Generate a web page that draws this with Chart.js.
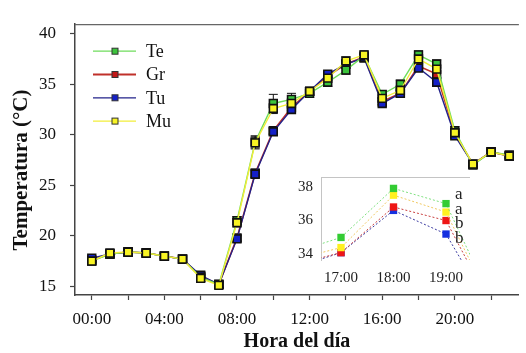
<!DOCTYPE html>
<html>
<head>
<meta charset="utf-8">
<script src="https://cdn.jsdelivr.net/npm/chart.js@4/dist/chart.umd.min.js"></script>
<style>
body { margin: 0; background: #fff; }
#wrap { position: relative; width: 526px; height: 353px; }
#main { position: absolute; left: 0; top: 0; }
#inset { position: absolute; left: 280px; top: 160px; }
</style>
</head>
<body>
<div id="wrap">
<canvas id="main" width="526" height="353"></canvas>
<canvas id="inset" width="220" height="130"></canvas>
</div>
<script>
// Horas (0..23) y temperaturas medias por tratamiento
const hours = [0,1,2,3,4,5,6,7,8,9,10,11,12,13,14,15,16,17,18,19,20,21,22,23];
const te = [17.5,18.2,18.4,18.3,18.0,17.7,15.9,15.2,21.5,29.3,33.1,33.5,34.1,35.2,36.4,37.8,34.0,35.0,37.9,37.0,30.4,27.0,28.3,28.0];
const gr = [17.6,18.2,18.4,18.3,18.0,17.7,16.0,15.2,19.8,26.2,30.4,32.7,34.3,35.8,37.0,37.7,33.3,34.1,36.8,36.0,30.1,27.1,28.3,27.9];
const tu = [17.8,18.2,18.4,18.3,18.0,17.7,16.1,15.2,19.7,26.1,30.3,32.5,34.3,36.0,37.0,37.6,33.1,34.1,36.6,35.2,29.9,27.1,28.3,27.9];
const mu = [17.5,18.3,18.4,18.3,18.0,17.7,15.8,15.1,21.3,29.2,32.6,33.1,34.3,35.6,37.3,37.9,33.6,34.4,37.5,36.5,30.2,27.1,28.3,27.9];

// errores (aprox.)
const teErr = [0.2,0.2,0.2,0.2,0.2,0.2,0.3,0.3,0.4,0.6,0.9,0.6,0.4,0.4,0.4,0.3,0.3,0.4,0.4,0.4,0.4,0.2,0.2,0.2];
const grErr = [0.2,0.2,0.2,0.2,0.2,0.2,0.3,0.3,0.3,0.4,0.3,0.3,0.3,0.3,0.3,0.3,0.3,0.3,0.3,0.3,0.3,0.2,0.2,0.2];
const tuErr = [0.2,0.2,0.2,0.2,0.2,0.2,0.3,0.3,0.3,0.4,0.3,0.3,0.3,0.3,0.3,0.3,0.3,0.3,0.3,0.4,0.3,0.2,0.2,0.2];
const muErr = [0.3,0.2,0.2,0.2,0.2,0.2,0.3,0.3,0.4,0.6,0.5,0.5,0.4,0.4,0.4,0.4,0.3,0.4,0.4,0.4,0.4,0.2,0.2,0.2];

const seriesNames = ['Te','Gr','Tu','Mu'];
const xTicks = [0,2,4,6,8,10,12,14,16,18,20,22];
const xTickLabels = ['00:00','','04:00','','08:00','','12:00','','16:00','','20:00',''];
const yTicks = [15,20,25,30,35,40];

const insetXTicks = [17,18,19];
const insetXLabels = ['17:00','18:00','19:00'];
const insetYTicks = [34,36,38];
const sigLetters = ['a','a','b','b'];

const serif = "'Liberation Serif', 'Times New Roman', serif";
const lineColors = ['#6fdc5c','#c0302a','#22228a','#f2ee3a'];
const markColors = ['#3cc43c','#c21818','#1420c8','#f8f424'];
const insetLine = ['#7ee07e','#c84040','#3a3aa0','#f0c860'];
const insetMark = ['#33cc33','#ee1616','#1530e0','#fff020'];
const allVals = [te, gr, tu, mu];
const allErr = [teErr, grErr, tuErr, muErr];

function pts(vals) {
    return hours.map((h, i) => ({ x: h, y: vals[i] }));
}

// barras de error + marco superior + leyenda + títulos
const mainExtras = {
    id: 'mainExtras',
    beforeDatasetsDraw(chart) {
        const ctx = chart.ctx;
        const xs = chart.scales.x, ys = chart.scales.y;
        ctx.save();
        ctx.strokeStyle = '#111';
        ctx.lineWidth = 1;
        allVals.forEach((vals, s) => {
            vals.forEach((v, i) => {
                const e = allErr[s][i];
                const x = xs.getPixelForValue(hours[i]);
                const y1 = ys.getPixelForValue(v + e);
                const y2 = ys.getPixelForValue(v - e);
                ctx.beginPath();
                ctx.moveTo(x, y1); ctx.lineTo(x, y2);
                ctx.moveTo(x - 4.5, y1); ctx.lineTo(x + 4.5, y1);
                ctx.moveTo(x - 4.5, y2); ctx.lineTo(x + 4.5, y2);
                ctx.stroke();
            });
        });
        ctx.restore();
    },
    afterDraw(chart) {
        const ctx = chart.ctx;
        const a = chart.chartArea;
        ctx.save();
        ctx.strokeStyle = '#666';
        ctx.lineWidth = 1.2;
        ctx.beginPath();
        ctx.moveTo(a.left, a.top + 0.5);
        ctx.lineTo(a.right, a.top + 0.5);
        ctx.stroke();

        // leyenda
        ctx.font = '18px ' + serif;
        ctx.textBaseline = 'middle';
        seriesNames.forEach((name, i) => {
            const y = a.top + 27 + i * 23.3;
            ctx.strokeStyle = lineColors[i];
            ctx.lineWidth = i === 1 ? 2 : 1.3;
            ctx.beginPath();
            ctx.moveTo(a.left + 18, y); ctx.lineTo(a.left + 61, y);
            ctx.stroke();
            ctx.fillStyle = markColors[i];
            ctx.strokeStyle = '#333';
            ctx.lineWidth = 1;
            ctx.fillRect(a.left + 37, y - 3, 6, 6);
            ctx.strokeRect(a.left + 37, y - 3, 6, 6);
            ctx.fillStyle = '#111';
            ctx.fillText(name, a.left + 71, y + 1);
        });

        // títulos de ejes
        ctx.textAlign = 'center';
        ctx.font = 'bold 20px ' + serif;
        ctx.fillText('Hora del día', (a.left + a.right) / 2, 342);
        ctx.font = 'bold 21px ' + serif;
        ctx.translate(22, 170);
        ctx.rotate(-Math.PI / 2);
        ctx.fillText('Temperatura (°C)', 0, 0);
        ctx.restore();
    }
};

new Chart(document.getElementById('main'), {
    type: 'line',
    data: {
        datasets: seriesNames.map((name, i) => ({
            label: name,
            data: pts(allVals[i]),
            borderColor: lineColors[i],
            borderWidth: i === 1 ? 1.6 : 1.4,
            pointStyle: 'rect',
            pointRadius: 5.5,
            pointBackgroundColor: markColors[i],
            pointBorderColor: '#111',
            pointBorderWidth: 1.6,
            order: [1, 3, 2, 0][i],
            tension: 0
        }))
    },
    options: {
        responsive: false,
        devicePixelRatio: 1,
        animation: false,
        layout: { padding: { top: 11, left: 0, right: 1, bottom: 0 } },
        plugins: { legend: { display: false }, tooltip: { enabled: false } },
        scales: {
            x: {
                type: 'linear',
                min: -0.924,
                max: 23.53,
                afterBuildTicks: axis => { axis.ticks = xTicks.map(v => ({ value: v })); },
                afterFit: axis => { axis.height = 58; },
                ticks: {
                    autoSkip: false,
                    maxRotation: 0,
                    padding: 9,
                    color: '#111',
                    font: { family: serif, size: 17 },
                    callback: (v) => xTickLabels[xTicks.indexOf(v)]
                },
                grid: { drawOnChartArea: false, drawTicks: true, tickLength: 5, color: '#444', tickWidth: 1.2 },
                border: { display: true, color: '#444', width: 1.5 }
            },
            y: {
                min: 14.15,
                max: 40.94,
                afterBuildTicks: axis => { axis.ticks = yTicks.map(v => ({ value: v })); },
                afterFit: axis => { axis.width = 75; },
                ticks: {
                    padding: 14,
                    color: '#111',
                    font: { family: serif, size: 17 }
                },
                grid: { drawOnChartArea: false, drawTicks: true, tickLength: 5, color: '#444', tickWidth: 1.2 },
                border: { display: true, color: '#444', width: 1.5 }
            }
        }
    },
    plugins: [mainExtras]
});

// recuadro: 17:00 - 19:00
const insetExtras = {
    id: 'insetExtras',
    afterDraw(chart) {
        const ctx = chart.ctx;
        const a = chart.chartArea;
        const xs = chart.scales.x, ys = chart.scales.y;
        ctx.save();
        ctx.strokeStyle = '#c4c4c4';
        ctx.lineWidth = 1;
        ctx.beginPath();
        ctx.moveTo(a.left, a.top + 0.5);
        ctx.lineTo(a.right, a.top + 0.5);
        ctx.stroke();
        const i19 = hours.indexOf(19);
        const x = xs.getPixelForValue(19) + 9;
        const y0 = ys.getPixelForValue(te[i19]) - 9;
        ctx.font = '17px ' + serif;
        ctx.fillStyle = '#222';
        ctx.textBaseline = 'middle';
        sigLetters.forEach((l, i) => {
            ctx.fillText(l, x, y0 + i * 14.7);
        });
        ctx.restore();
    }
};

new Chart(document.getElementById('inset'), {
    type: 'line',
    data: {
        datasets: seriesNames.map((name, i) => ({
            label: name,
            data: pts(allVals[i]),
            borderColor: insetLine[i],
            borderWidth: 1,
            borderDash: [2, 2],
            pointStyle: 'rect',
            pointRadius: 5.2,
            pointBackgroundColor: insetMark[i],
            pointBorderWidth: 0,
            order: [0, 2, 3, 1][i],
            tension: 0
        }))
    },
    options: {
        responsive: false,
        devicePixelRatio: 1,
        animation: false,
        layout: { padding: { top: 12, left: 0, right: 30, bottom: 0 } },
        plugins: { legend: { display: false }, tooltip: { enabled: false } },
        scales: {
            x: {
                type: 'linear',
                min: 16.619,
                max: 19.457,
                afterBuildTicks: axis => { axis.ticks = insetXTicks.map(v => ({ value: v })); },
                afterFit: axis => { axis.height = 30; },
                ticks: {
                    autoSkip: false,
                    maxRotation: 0,
                    padding: 9,
                    color: '#222',
                    font: { family: serif, size: 15 },
                    callback: (v) => insetXLabels[insetXTicks.indexOf(v)]
                },
                grid: { display: false, drawTicks: false },
                border: { display: false }
            },
            y: {
                min: 33.665,
                max: 38.575,
                afterBuildTicks: axis => { axis.ticks = insetYTicks.map(v => ({ value: v })); },
                afterFit: axis => { axis.width = 41; },
                ticks: {
                    padding: 8,
                    color: '#222',
                    font: { family: serif, size: 15 }
                },
                grid: { drawOnChartArea: false, drawTicks: false },
                border: { display: true, color: '#c4c4c4', width: 1 }
            }
        }
    },
    plugins: [insetExtras]
});
</script>
</body>
</html>
